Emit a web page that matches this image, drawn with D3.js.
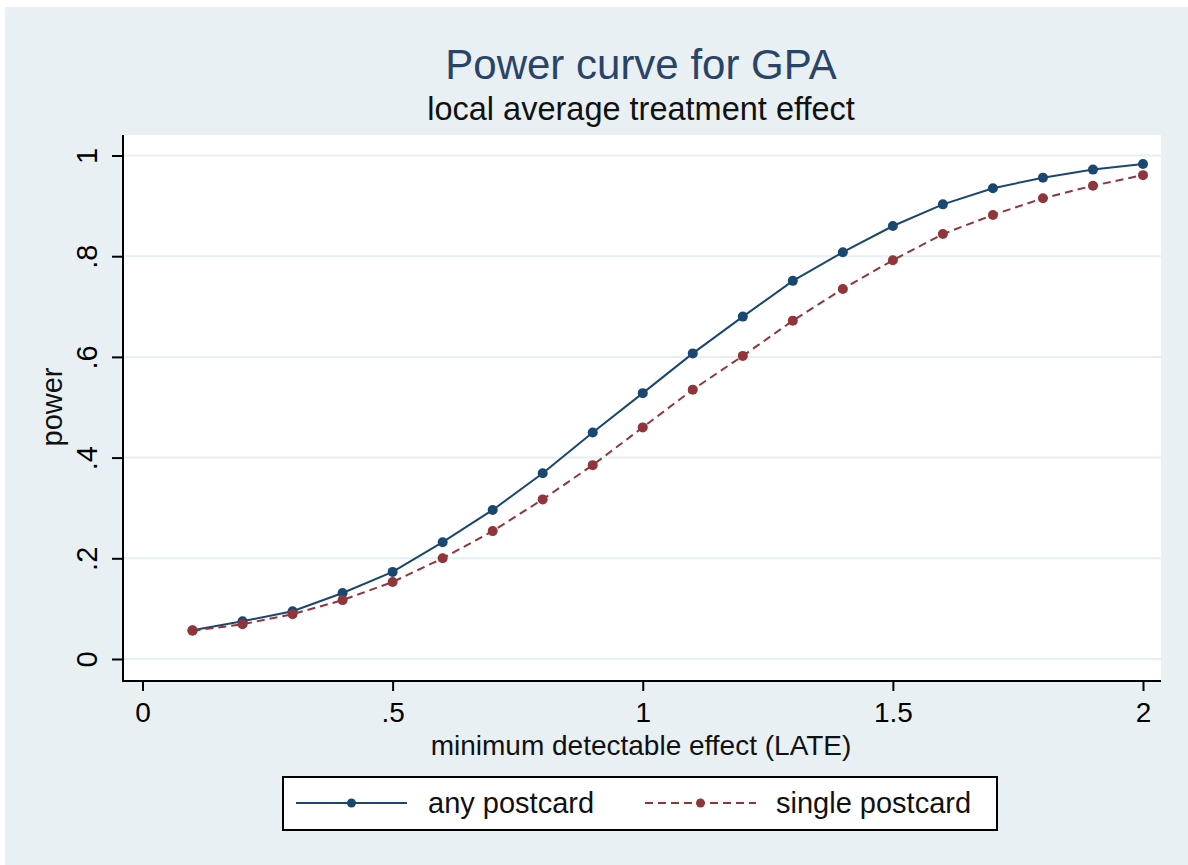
<!DOCTYPE html>
<html>
<head>
<meta charset="utf-8">
<script src="https://cdn.jsdelivr.net/npm/d3@7"></script>
<style>
  html, body { margin: 0; padding: 0; background: #ffffff; }
  svg { display: block; }
  text { font-family: "Liberation Sans", Arial, sans-serif; }
</style>
</head>
<body>
<svg id="chart" width="1188" height="865"></svg>
<script>
// ---- data ----
const effects = [0.1, 0.2, 0.3, 0.4, 0.5, 0.6, 0.7, 0.8, 0.9, 1.0, 1.1, 1.2, 1.3, 1.4, 1.5, 1.6, 1.7, 1.8, 1.9, 2.0];
const anyPostcard = [0.057, 0.075, 0.095, 0.131, 0.173, 0.232, 0.296, 0.369, 0.450, 0.528, 0.607, 0.680, 0.751, 0.808, 0.860, 0.903, 0.935, 0.956, 0.972, 0.983];
const singlePostcard = [0.056, 0.069, 0.089, 0.117, 0.153, 0.200, 0.254, 0.317, 0.385, 0.460, 0.535, 0.602, 0.672, 0.735, 0.792, 0.844, 0.882, 0.915, 0.940, 0.961];
const xTicks = [0, 0.5, 1, 1.5, 2];
const xTickLabels = ["0", ".5", "1", "1.5", "2"];
const yTicks = [0, 0.2, 0.4, 0.6, 0.8, 1];
const yTickLabels = ["0", ".2", ".4", ".6", ".8", "1"];
const seriesNames = ["any postcard", "single postcard"];
const titleText = "Power curve for GPA";
const subtitleText = "local average treatment effect";
const xTitle = "minimum detectable effect (LATE)";
const yTitle = "power";

// ---- layout ----
const svg = d3.select("#chart");
const W = 1188, H = 865;
const plot = { left: 123, right: 1161, top: 135, bottom: 681 };
const bg = "#e9f0f3";
const blue = "#1a476f", red = "#90353b";

svg.append("rect").attr("x", 5).attr("y", 7).attr("width", W - 5).attr("height", H - 7).attr("fill", bg);
svg.append("rect").attr("x", plot.left).attr("y", plot.top)
  .attr("width", plot.right - plot.left).attr("height", plot.bottom - plot.top).attr("fill", "#ffffff");

const x = d3.scaleLinear().domain([0, 2]).range([142.5, 1143]);
const y = d3.scaleLinear().domain([0, 1]).range([659, 155.5]);

// gridlines
svg.append("g").selectAll("line").data(yTicks).join("line")
  .attr("x1", plot.left).attr("x2", plot.right)
  .attr("y1", d => y(d)).attr("y2", d => y(d))
  .attr("stroke", "#e6eff1").attr("stroke-width", 2);

// x axis
const xAxis = d3.axisBottom(x).tickValues(xTicks).tickFormat((d, i) => xTickLabels[i]).tickSize(10).tickSizeOuter(0);
const gx = svg.append("g").attr("transform", `translate(0,${plot.bottom})`).call(xAxis);
gx.select(".domain").remove();
gx.selectAll(".tick line").attr("stroke", "#000").attr("stroke-width", 2);
gx.selectAll(".tick text").attr("font-size", 28).attr("fill", "#000").attr("dy", null).attr("y", 41)
  .attr("font-family", "Liberation Sans, Arial, sans-serif");

// y axis
const yAxis = d3.axisLeft(y).tickValues(yTicks).tickFormat((d, i) => yTickLabels[i]).tickSize(11).tickSizeOuter(0);
const gy = svg.append("g").attr("transform", `translate(${plot.left},0)`).call(yAxis);
gy.select(".domain").remove();
gy.selectAll(".tick line").attr("stroke", "#000").attr("stroke-width", 2);
gy.selectAll(".tick text").attr("font-size", 29).attr("fill", "#000")
  .attr("x", null).attr("dy", null).attr("text-anchor", "middle")
  .attr("transform", "translate(-26,0) rotate(-90)")
  .attr("font-family", "Liberation Sans, Arial, sans-serif");

// axis lines
svg.append("line").attr("x1", plot.left).attr("x2", plot.left).attr("y1", plot.top).attr("y2", plot.bottom + 1)
  .attr("stroke", "#000").attr("stroke-width", 2);
svg.append("line").attr("x1", plot.left - 1).attr("x2", plot.right).attr("y1", plot.bottom).attr("y2", plot.bottom)
  .attr("stroke", "#000").attr("stroke-width", 2);

// series
const series = [
  { name: seriesNames[0], values: anyPostcard, color: blue, dash: null },
  { name: seriesNames[1], values: singlePostcard, color: red, dash: "8,5" }
];
const line = d3.line().x(d => x(d[0])).y(d => y(d[1]));
series.forEach(s => {
  const pts = effects.map((e, i) => [e, s.values[i]]);
  svg.append("path").datum(pts).attr("d", line).attr("fill", "none")
    .attr("stroke", s.color).attr("stroke-width", 2).attr("stroke-dasharray", s.dash);
  svg.append("g").selectAll("circle").data(pts).join("circle")
    .attr("cx", d => x(d[0])).attr("cy", d => y(d[1])).attr("r", 5).attr("fill", s.color);
});

// titles
svg.append("text").attr("x", 641).attr("y", 79).attr("text-anchor", "middle")
  .attr("font-size", 42).attr("fill", "#2a4468").text(titleText);
svg.append("text").attr("x", 641).attr("y", 120).attr("text-anchor", "middle")
  .attr("font-size", 32.5).attr("fill", "#111").text(subtitleText);
svg.append("text").attr("x", 641).attr("y", 755).attr("text-anchor", "middle")
  .attr("font-size", 28).attr("fill", "#111").text(xTitle);
svg.append("text").attr("transform", "translate(62,407) rotate(-90)").attr("text-anchor", "middle")
  .attr("font-size", 29).attr("fill", "#111").text(yTitle);

// legend
const lg = svg.append("g");
lg.append("rect").attr("x", 283).attr("y", 777).attr("width", 714).attr("height", 53)
  .attr("fill", "#fff").attr("stroke", "#000").attr("stroke-width", 2);
const legendItems = [
  { s: series[0], x0: 296, x1: 407, tx: 428 },
  { s: series[1], x0: 645, x1: 756, tx: 776 }
];
legendItems.forEach(it => {
  const cy = 803;
  lg.append("line").attr("x1", it.x0).attr("x2", it.x1).attr("y1", cy).attr("y2", cy)
    .attr("stroke", it.s.color).attr("stroke-width", 2).attr("stroke-dasharray", it.s.dash);
  lg.append("circle").attr("cx", (it.x0 + it.x1) / 2).attr("cy", cy).attr("r", 4.5).attr("fill", it.s.color);
  lg.append("text").attr("x", it.tx).attr("y", cy + 10).attr("font-size", 29).attr("fill", "#111").text(it.s.name);
});
</script>
</body>
</html>
